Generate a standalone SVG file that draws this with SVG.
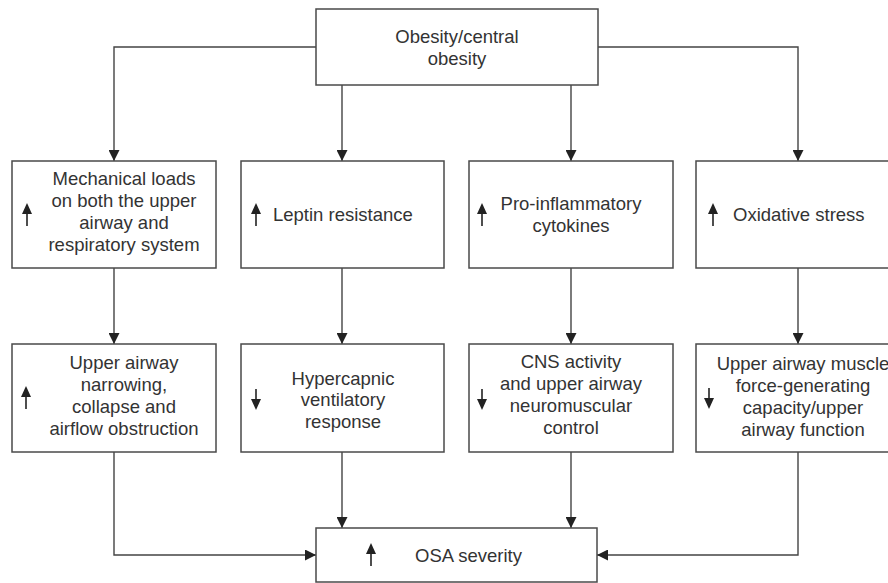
<svg xmlns="http://www.w3.org/2000/svg" width="888" height="583" viewBox="0 0 888 583">
<style>
.box{fill:#fff;stroke:#4a4a4a;stroke-width:1.5}
.t{font-family:"Liberation Sans",Arial,sans-serif;font-size:18.5px;fill:#333}
.c{text-anchor:middle}
.ln{fill:none;stroke:#444;stroke-width:1.4}
.sa{stroke:#222;stroke-width:1.6;fill:none}
.hd{fill:#222}
</style>
<defs>
<marker id="ah" viewBox="0 0 10 10" refX="10" refY="5" markerWidth="11" markerHeight="11" markerUnits="userSpaceOnUse" orient="auto">
<path d="M0,0 L10,5 L0,10 Z" fill="#222"/>
</marker>
</defs>
<rect width="888" height="583" fill="#fff"/>
<g id="connectors">
<path class="ln" d="M316,47 H114 V161" marker-end="url(#ah)"/>
<path class="ln" d="M598,47 H798 V161" marker-end="url(#ah)"/>
<path class="ln" d="M342,85 V161" marker-end="url(#ah)"/>
<path class="ln" d="M571,85 V161" marker-end="url(#ah)"/>
<path class="ln" d="M114,268 V344" marker-end="url(#ah)"/>
<path class="ln" d="M342,268 V344" marker-end="url(#ah)"/>
<path class="ln" d="M571,268 V344" marker-end="url(#ah)"/>
<path class="ln" d="M798,268 V344" marker-end="url(#ah)"/>
<path class="ln" d="M114,452 V555 H316" marker-end="url(#ah)"/>
<path class="ln" d="M342,452 V528" marker-end="url(#ah)"/>
<path class="ln" d="M571,452 V528" marker-end="url(#ah)"/>
<path class="ln" d="M798,452 V555 H597" marker-end="url(#ah)"/>
</g>
<g id="obesity">
<rect class="box" x="316" y="9" width="282" height="76"/>
<text class="t c" x="457" y="43">Obesity/central</text>
<text class="t c" x="457" y="65">obesity</text>
</g>
<g id="mechanical">
<rect class="box" x="12" y="161" width="204" height="107"/>
<line class="sa" x1="27" y1="226" x2="27" y2="210"/><path class="hd" d="M22,214 L27,203 L32,214 Z"/>
<text class="t c" x="124" y="185">Mechanical loads</text>
<text class="t c" x="124" y="207">on both the upper</text>
<text class="t c" x="124" y="229">airway and</text>
<text class="t c" x="124" y="251">respiratory system</text>
</g>
<g id="leptin">
<rect class="box" x="241" y="161" width="203" height="107"/>
<line class="sa" x1="256" y1="226" x2="256" y2="210"/><path class="hd" d="M251,214 L256,203 L261,214 Z"/>
<text class="t" x="273" y="221">Leptin resistance</text>
</g>
<g id="cytokines">
<rect class="box" x="469" y="161" width="204" height="107"/>
<line class="sa" x1="482" y1="226" x2="482" y2="210"/><path class="hd" d="M477,214 L482,203 L487,214 Z"/>
<text class="t c" x="571" y="210">Pro-inflammatory</text>
<text class="t c" x="571" y="232">cytokines</text>
</g>
<g id="oxidative">
<rect class="box" x="696" y="161" width="220" height="107"/>
<line class="sa" x1="713" y1="226" x2="713" y2="210"/><path class="hd" d="M708,214 L713,203 L718,214 Z"/>
<text class="t" x="733" y="221">Oxidative stress</text>
</g>
<g id="narrowing">
<rect class="box" x="12" y="344" width="204" height="108"/>
<line class="sa" x1="26" y1="409" x2="26" y2="393"/><path class="hd" d="M21,397 L26,386 L31,397 Z"/>
<text class="t c" x="124" y="369">Upper airway</text>
<text class="t c" x="124" y="391">narrowing,</text>
<text class="t c" x="124" y="413">collapse and</text>
<text class="t c" x="124" y="435">airflow obstruction</text>
</g>
<g id="hypercapnic">
<rect class="box" x="241" y="344" width="203" height="108"/>
<line class="sa" x1="256" y1="389" x2="256" y2="403"/><path class="hd" d="M251,399 L256,410 L261,399 Z"/>
<text class="t c" x="343" y="385">Hypercapnic</text>
<text class="t c" x="343" y="406">ventilatory</text>
<text class="t c" x="343" y="428">response</text>
</g>
<g id="cns">
<rect class="box" x="469" y="344" width="204" height="108"/>
<line class="sa" x1="482" y1="389" x2="482" y2="403"/><path class="hd" d="M477,399 L482,410 L487,399 Z"/>
<text class="t c" x="571" y="368">CNS activity</text>
<text class="t c" x="571" y="390">and upper airway</text>
<text class="t c" x="571" y="412">neuromuscular</text>
<text class="t c" x="571" y="434">control</text>
</g>
<g id="muscle">
<rect class="box" x="696" y="344" width="220" height="108"/>
<line class="sa" x1="709" y1="388" x2="709" y2="402"/><path class="hd" d="M704,398 L709,409 L714,398 Z"/>
<text class="t c" x="803" y="370">Upper airway muscle</text>
<text class="t c" x="803" y="392">force-generating</text>
<text class="t c" x="803" y="414">capacity/upper</text>
<text class="t c" x="803" y="436">airway function</text>
</g>
<g id="osa">
<rect class="box" x="316" y="528" width="281" height="54"/>
<line class="sa" x1="371" y1="566" x2="371" y2="550"/><path class="hd" d="M366,554 L371,543 L376,554 Z"/>
<text class="t" x="415" y="562">OSA severity</text>
</g>
</svg>
